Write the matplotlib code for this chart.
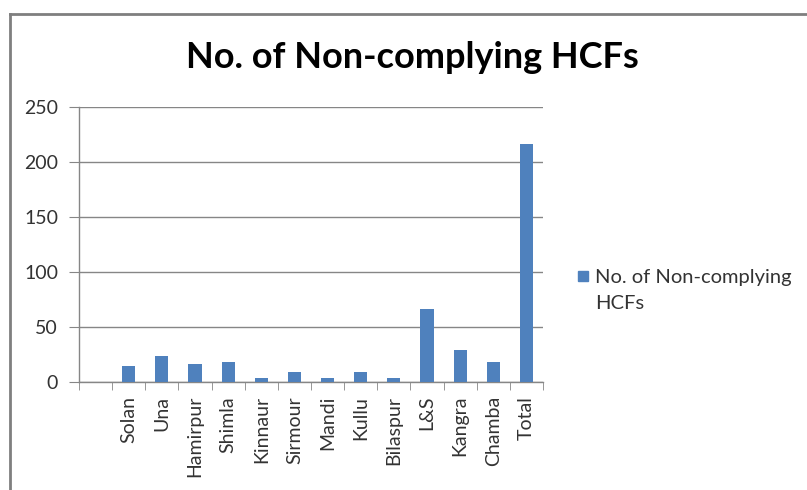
import matplotlib
matplotlib.use("Agg")
import matplotlib.pyplot as plt
from matplotlib.patches import Rectangle
import numpy as np

categories = ["", "Solan", "Una", "Hamirpur", "Shimla", "Kinnaur", "Sirmour", "Mandi",
              "Kullu", "Bilaspur", "L&S", "Kangra", "Chamba", "Total"]
values = [0, 15, 24, 16, 18, 4, 9, 4, 9, 4, 66, 29, 18, 216]
y_ticks = [0, 50, 100, 150, 200, 250]
series_name = "No. of Non-complying\nHCFs"
title = "No. of Non-complying HCFs"

plt.rcParams['font.family'] = ['Lato', 'DejaVu Sans']
bar_color = "#4F81BD"
grid_color = "#868686"
text_color = "#333333"

fig = plt.figure(figsize=(8.07, 4.90), dpi=100)
ax = fig.add_axes([79/807, 1-382/490, (543-79)/807, (382-107)/490])

x = np.arange(len(categories))
ax.bar(x, values, width=0.4, color=bar_color, zorder=3)

ax.set_xlim(-0.5, len(categories)-0.5)
ax.set_ylim(0, 250)
ax.set_yticks(y_ticks)
ax.set_yticklabels([str(v) for v in y_ticks], fontsize=14, color=text_color)
ax.yaxis.grid(True, color=grid_color, linewidth=1, zorder=0)
ax.tick_params(axis='y', length=7, color=grid_color, pad=8)

ax.set_xticks(x)
ax.set_xticklabels(categories, rotation=90, fontsize=14, color=text_color)
ax.tick_params(axis='x', which='major', length=0, pad=10)
ax.set_xticks(np.arange(len(categories)+1)-0.5, minor=True)
ax.tick_params(axis='x', which='minor', length=6, color=grid_color)

for s in ["top", "right"]:
    ax.spines[s].set_visible(False)
for s in ["left", "bottom"]:
    ax.spines[s].set_color(grid_color)
    ax.spines[s].set_linewidth(1)

fig.text(412/807, 1-57/490, title, ha='center', va='center', fontsize=26,
         fontweight='bold', color='black')

# legend
fig.patches.append(Rectangle((578/807, 1-281/490), 10/807, 10/490,
                             transform=fig.transFigure, color=bar_color))
fig.text(595/807, 1-269/490, series_name, ha='left', va='top', fontsize=14.5,
         color=text_color, linespacing=1.65, transform=fig.transFigure)
# outer chart border
fig.add_artist(plt.Line2D([10/807, 10/807], [0, 1-14/490], transform=fig.transFigure,
                          color="#7f7f7f", linewidth=2))
fig.add_artist(plt.Line2D([10/807, 1], [1-14/490, 1-14/490], transform=fig.transFigure,
                          color="#7f7f7f", linewidth=2))

fig.savefig("out.png", dpi=100)
